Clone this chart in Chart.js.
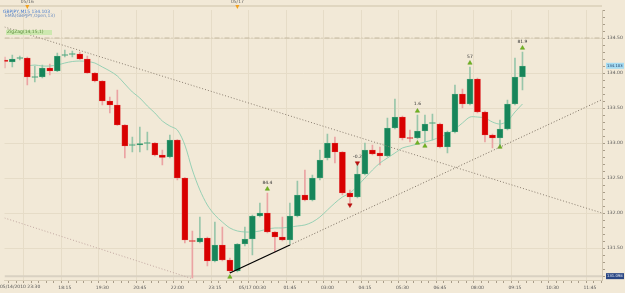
<!DOCTYPE html>
<html><head><meta charset="utf-8">
<script src="https://cdn.jsdelivr.net/npm/chart.js@4.4.0/dist/chart.umd.min.js"></script>
<style>html,body{margin:0;padding:0;background:#f2e9d7;}canvas{display:block}</style>
</head><body>
<canvas id="c" width="625" height="293"></canvas>
<script>
// 15-minute GBP/JPY candles, slot -3 .. 66
const opens = [134.186,134.157,134.207,134.214,133.936,133.943,134.071,134.029,134.250,134.264,134.271,134.200,134.000,133.886,133.600,133.543,133.257,132.964,132.971,132.993,133.000,132.829,132.800,133.043,132.500,131.607,131.586,131.643,131.314,131.543,131.329,131.171,131.557,131.629,131.957,132.000,131.729,131.657,131.614,131.957,132.257,132.186,132.500,132.786,133.000,132.871,132.286,132.229,132.557,132.900,132.857,132.814,133.214,133.371,133.071,133.071,133.171,133.279,133.271,132.943,133.157,133.700,133.557,133.914,133.443,133.114,133.071,133.200,133.557,133.943];
const highs = [134.229,134.257,134.243,134.229,134.100,134.114,134.129,134.286,134.329,134.314,134.300,134.243,134.005,133.890,133.657,133.757,133.262,133.086,133.229,133.157,133.005,132.900,133.114,133.048,132.505,131.743,131.943,131.657,131.871,131.800,131.357,131.562,131.800,131.971,132.143,132.286,131.734,131.943,132.143,132.457,132.614,132.543,132.900,133.129,133.086,132.876,132.329,132.714,133.000,132.971,132.943,133.357,133.629,133.386,133.186,133.400,133.400,133.414,133.286,133.171,133.829,133.771,134.086,133.929,133.457,133.129,133.329,133.614,134.214,134.300];
const lows = [134.071,134.086,134.186,133.829,133.871,133.929,133.971,134.020,134.229,134.229,134.193,133.995,133.871,133.543,133.429,133.250,132.786,132.871,132.871,132.900,132.814,132.686,132.786,132.471,131.571,131.071,131.571,131.243,131.300,131.314,131.143,131.157,131.529,131.400,131.943,131.714,131.443,131.600,131.557,131.943,132.171,132.171,132.471,132.757,132.714,132.257,132.143,132.214,132.543,132.829,132.686,132.800,133.200,133.043,133.014,133.057,133.014,133.043,132.929,132.857,133.143,133.500,133.543,133.429,133.014,132.929,132.929,133.186,133.543,133.757];
const closes = [134.164,134.200,134.221,133.943,133.943,134.071,134.029,134.243,134.264,134.279,134.200,134.000,133.886,133.600,133.543,133.257,132.957,132.971,132.993,133.000,132.829,132.793,133.043,132.500,131.614,131.593,131.643,131.314,131.543,131.329,131.171,131.557,131.629,131.957,132.000,131.729,131.657,131.614,131.957,132.257,132.186,132.500,132.757,133.000,132.871,132.286,132.229,132.557,132.900,132.843,132.814,133.214,133.371,133.071,133.064,133.171,133.271,133.286,132.943,133.157,133.700,133.557,133.914,133.443,133.114,133.071,133.200,133.557,133.943,134.100];
const firstSlot = -3;
// moving average (slot 0 .. 66)
const maValues = [134.100,134.114,134.100,134.100,134.114,134.143,134.164,134.171,134.164,134.143,134.086,134.029,133.957,133.843,133.729,133.643,133.529,133.429,133.314,133.243,133.186,132.971,132.614,132.329,132.114,131.971,131.871,131.786,131.743,131.729,131.729,131.743,131.771,131.786,131.786,131.800,131.814,131.829,131.871,131.943,132.043,132.143,132.229,132.286,132.386,132.500,132.614,132.714,132.786,132.857,132.929,132.957,132.986,133.014,133.043,133.086,133.129,133.200,133.286,133.371,133.371,133.357,133.300,133.271,133.314,133.443,133.557];
// trend lines [slot, price]
const trendUpperSlots = [-3.04, 76.6], trendUpperPrices = [134.657, 132.0];
const trendLowerSlots = [-3.04, 22.1], trendLowerPrices = [131.929, 131.057];
const supportSolidSlots = [27, 35], supportSolidPrices = [131.143, 131.543];
const supportDotSlots = [35, 76.6], supportDotPrices = [131.543, 133.62];
const levelLine = 134.5;
const lowLevel = 131.098;
const lastPrice = 134.103;
// signal arrows
const upArrowSlots = [27, 32, 52, 52, 53, 59, 63, 66];
const upArrowPrices = [131.086, 132.343, 133.457, 133.000, 132.957, 134.143, 132.943, 134.357];
const downArrowSlots = [43, 44];
const downArrowPrices = [132.114, 132.714];
const signalTexts = ['84.4', '-0.2', '1.6', '57', '81.9'];
const signalSlots = [32, 44, 52, 59, 66];
const signalPrices = [132.40, 132.77, 133.53, 134.20, 134.42];
// axis labels
const xTickSlots = [0,5,10,15,20,25,30,35,40,45,50,55,60,65,70,75];
const xTickLabels = ['', '18:15','19:30','20:45','22:00','23:15','05/17 00:30','01:45','03:00','04:15','05:30','06:45','08:00','09:15','10:30','11:45'];
const firstLabel = '05/14/2010 23:30';
const dayMarkSlots = [0, 28];
const dayMarkLabels = ['05/16', '05/17'];

const slots = opens.map((_, i) => i + firstSlot);
const bull = slots.map((_, i) => closes[i] >= opens[i]);
const BULL = '#17855a', BEAR = '#d80000';
const xy = (xs, ys) => xs.map((x, i) => ({x, y: ys[i]}));

const decor = {
  id: 'decor',
  beforeDraw(chart) {
    const c = chart.ctx;
    c.save();
    c.fillStyle = '#f2e9d7';
    c.fillRect(0, 0, chart.width, chart.height);
    c.restore();
  },
  afterDraw(chart) {
    const c = chart.ctx, xs = chart.scales.x, ys = chart.scales.y, a = chart.chartArea;
    c.save();
    // top strip
    c.strokeStyle = '#e0d6c0'; c.lineWidth = 2;
    c.beginPath(); c.moveTo(0, 6); c.lineTo(a.right, 6); c.stroke();
    c.font = '4.5px "DejaVu Sans"'; c.textAlign = 'center'; c.textBaseline = 'top';
    dayMarkSlots.forEach((s, i) => {
      const x = xs.getPixelForValue(s);
      c.fillStyle = '#666'; c.fillText(dayMarkLabels[i], x, 0);
      c.fillStyle = '#f0a020';
      c.beginPath(); c.moveTo(x - 2, 5); c.lineTo(x + 2, 5); c.lineTo(x, 9); c.closePath(); c.fill();
    });
    // legend text
    c.textAlign = 'left';
    c.fillStyle = '#4a7fd0'; c.fillText('GBPJPY,M15 134.103', 3, 10);
    c.fillStyle = '#6a8cc0'; c.fillText('EMA(GBPJPY,Open,13)', 5, 14);
    c.fillStyle = '#cde8b0'; c.fillRect(6, 30, 46, 5);
    c.fillStyle = '#5a8a3a'; c.fillText('ZigZag(14,15,1)', 7, 30);
    // signal labels
    c.fillStyle = '#333'; c.textBaseline = 'bottom'; c.textAlign = 'center';
    signalSlots.forEach((s, i) => c.fillText(signalTexts[i], xs.getPixelForValue(s), ys.getPixelForValue(signalPrices[i])));
    // first x label
    c.textAlign = 'left'; c.textBaseline = 'top'; c.fillStyle = '#555';
    c.fillText(firstLabel, 0, a.bottom + 5);
    // price tags
    c.font = '3.8px "DejaVu Sans"';
    const tag = (p, bg, fg) => {
      const y = ys.getPixelForValue(p);
      c.fillStyle = bg; c.fillRect(a.right + 4, y - 3, 18, 6);
      c.fillStyle = fg; c.textBaseline = 'middle'; c.textAlign = 'left';
      c.fillText(p.toFixed(3), a.right + 5, y + 0.3);
    };
    tag(lastPrice, '#a6dcf2', '#1d3c66');
    tag(lowLevel, '#2a4683', '#e8eef8');
    c.restore();
  }
};

new Chart(document.getElementById('c'), {
  type: 'bar',
  data: {
    datasets: [
      { type: 'line', data: xy(trendUpperSlots, trendUpperPrices), borderColor: '#8a7e70', borderWidth: 1, borderDash: [1, 2], pointRadius: 0, order: 0 },
      { type: 'line', data: xy(trendLowerSlots, trendLowerPrices), borderColor: '#c0a6a0', borderWidth: 1, borderDash: [1, 2], pointRadius: 0, order: 0 },
      { type: 'line', data: xy(supportSolidSlots, supportSolidPrices), borderColor: '#000', borderWidth: 1.3, pointRadius: 0, order: 0 },
      { type: 'line', data: xy(supportDotSlots, supportDotPrices), borderColor: '#7a6e60', borderWidth: 1, borderDash: [1, 2], pointRadius: 0, order: 0 },
      { type: 'line', data: xy([-3.04, 76.6], [levelLine, levelLine]), borderColor: '#c4b8a0', borderWidth: 1, borderDash: [5, 2, 1, 2], pointRadius: 0, order: 5 },
      { type: 'line', data: xy([-3.04, 76.6], [lowLevel, lowLevel]), borderColor: '#d9d1c2', borderWidth: 2, pointRadius: 0, order: 5 },
      { type: 'line', data: xy(maValues.map((_, i) => i), maValues), borderColor: '#8ccdb0', borderWidth: 0.9, pointRadius: 0, tension: 0.3, order: 3 },
      { type: 'line', data: xy(upArrowSlots, upArrowPrices), showLine: false, pointStyle: 'triangle', pointRadius: 2.5, pointBackgroundColor: '#72b520', pointBorderColor: '#5a9a18', pointBorderWidth: 0.5, order: 0 },
      { type: 'line', data: xy(downArrowSlots, downArrowPrices), showLine: false, pointStyle: 'triangle', rotation: 180, pointRadius: 2.5, pointBackgroundColor: '#c01010', pointBorderColor: '#a00', pointBorderWidth: 0.5, order: 0 },
      { label: 'wicks', data: slots.map((s, i) => ({x: s, y: [lows[i], highs[i]]})), backgroundColor: bull.map(b => b ? '#98c6aa' : '#eba3a3'), barThickness: 1, grouped: false, order: 4 },
      { label: 'bodies', data: slots.map((s, i) => ({x: s, y: [opens[i], closes[i]]})), backgroundColor: bull.map(b => b ? BULL : BEAR), borderColor: bull.map(b => b ? '#6cb890' : '#e04040'), borderWidth: 0.6, borderSkipped: false, barThickness: 6, minBarLength: 1, grouped: false, order: 2 }
    ]
  },
  options: {
    animation: false, responsive: false, maintainAspectRatio: false,
    layout: { padding: { top: 10, left: 0, right: 0, bottom: 0 } },
    plugins: { legend: { display: false }, tooltip: { enabled: false } },
    scales: {
      x: {
        type: 'linear', min: -3.04, max: 76.6, offset: false,
        afterBuildTicks(s) { const t = []; for (let k = -3; k <= 76; k++) t.push({value: k}); s.ticks = t; },
        afterFit(s) { s.height = 13; },
        grid: { color: ctx => (ctx.tick && xTickSlots.includes(ctx.tick.value)) ? '#e6dcc7' : 'rgba(0,0,0,0)', tickColor: '#a89c88', tickLength: 3, drawOnChartArea: true },
        border: { color: '#d8ceb8' },
        ticks: { autoSkip: false, maxRotation: 0, padding: 2, color: '#555', font: { size: 4.5, family: 'DejaVu Sans' },
          callback: v => { const i = xTickSlots.indexOf(v); return i >= 0 ? xTickLabels[i] : ''; } }
      },
      y: {
        position: 'right', min: 131.043, max: 134.9,
        afterBuildTicks(s) { const t = []; for (let k = 1311; k <= 1349; k++) t.push({value: k / 10}); s.ticks = t; },
        afterFit(s) { s.width = 23; },
        grid: { color: ctx => (ctx.tick && Math.abs(ctx.tick.value * 2 - Math.round(ctx.tick.value * 2)) < 1e-6) ? '#e6dcc7' : 'rgba(0,0,0,0)', tickColor: '#a89c88', tickLength: 3 },
        border: { color: '#cfc5b0' },
        ticks: { autoSkip: false, padding: 2, color: '#555', font: { size: 4.5, family: 'DejaVu Sans' },
          callback: v => Math.abs(v * 2 - Math.round(v * 2)) < 1e-6 ? v.toFixed(2) : '' }
      }
    }
  },
  plugins: [decor]
});
</script>
</body></html>
